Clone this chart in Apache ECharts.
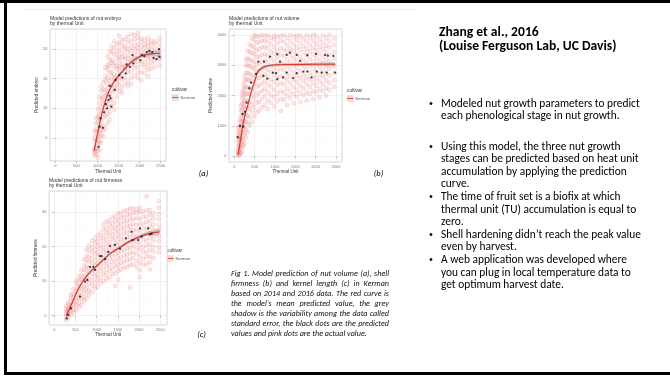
<!DOCTYPE html>
<html>
<head>
<meta charset="utf-8">
<script src="https://cdn.jsdelivr.net/npm/echarts@6/dist/echarts.min.js"></script>
<style>
  body { margin: 0; width: 670px; height: 377px; overflow: hidden; background: #fff; position: relative; font-family: Carlito, Lato, "Liberation Sans", sans-serif; color: #000; }
  #chart { position: absolute; left: 0; top: 0; width: 670px; height: 377px; }
  .bar { position: absolute; background: #000; }
  .hd { position: absolute; left: 439px; top: 25px; font-weight: bold; font-size: 13.6px; line-height: 14px; white-space: nowrap; }
  .bl { position: absolute; left: 429px; font-size: 11.4px; line-height: 12.6px; white-space: nowrap; }
  .bl .dot { position: absolute; left: 0; top: 0; font-size: 8px; }
  .bl .tx { margin-left: 12px; }
  .cap { position: absolute; left: 231px; top: 267.6px; width: 158px; font-style: italic; font-size: 8.1px; line-height: 10.1px; color: #111; }
  .cap div { text-align: justify; text-align-last: justify; white-space: nowrap; }
  .cap div.last { text-align-last: left; }
  .lbl { position: absolute; font-style: italic; font-size: 8.5px; transform: translate(-50%, -50%); }
</style>
</head>
<body>
<div id="chart"></div>

<div class="bar" style="left:0;top:0;width:670px;height:3px"></div>
<div class="bar" style="left:4px;top:0;width:3px;height:375px"></div>
<div class="bar" style="left:4px;top:372px;width:666px;height:3px"></div>
<div style="position:absolute;left:25px;top:9px;width:390px;height:1px;background:#ececec"></div>

<div class="hd">Zhang et al., 2016<br>(Louise Ferguson Lab, UC Davis)</div>

<div class="bl" style="top:96.7px"><span class="dot">•</span><div class="tx">Modeled nut growth parameters to predict<br>each phenological stage in nut growth.</div></div>
<div class="bl" style="top:139.7px"><span class="dot">•</span><div class="tx">Using this model, the three nut growth<br>stages can be predicted based on heat unit<br>accumulation by applying the prediction<br>curve.</div></div>
<div class="bl" style="top:190.1px"><span class="dot">•</span><div class="tx">The time of fruit set is a biofix at which<br>thermal unit (TU) accumulation is equal to<br>zero.</div></div>
<div class="bl" style="top:227.9px"><span class="dot">•</span><div class="tx">Shell hardening didn’t reach the peak value<br>even by harvest.</div></div>
<div class="bl" style="top:253.1px"><span class="dot">•</span><div class="tx">A web application was developed where<br>you can plug in local temperature data to<br>get optimum harvest date.</div></div>

<div class="cap">
  <div>Fig 1. Model prediction of nut volume (a), shell</div>
  <div>firmness (b) and kernel length (c) in Kerman</div>
  <div>based on 2014 and 2016 data. The red curve is</div>
  <div>the model’s mean predicted value, the grey</div>
  <div>shadow is the variability among the data called</div>
  <div>standard error, the black dots are the predicted</div>
  <div class="last">values and pink dots are the actual value.</div>
</div>

<div class="lbl" style="left:203.5px;top:173px">(a)</div>
<div class="lbl" style="left:378.5px;top:173px">(b)</div>
<div class="lbl" style="left:201.5px;top:334px">(c)</div>

<script>
// ---- (a) nut embryo ----
const tuA = [930, 970, 1010, 1050, 1090, 1140, 1190, 1240, 1290, 1340, 1400, 1460, 1520, 1580, 1650, 1720, 1800, 1880, 1960, 2040, 2120, 2200, 2280, 2360, 2470];
const embryoObs = [
  [2.0, 2.9, 3.3, 4.4, 5.1, 2.5, 6.2],
  [2.2, 3.6, 4.7, 5.8, 6.5, 7.4, 3.1, 8.3],
  [1.7, 2.8, 4.0, 5.3, 6.1, 7.7, 8.6, 9.9, 4.6],
  [3.0, 4.3, 6.0, 6.9, 8.4, 9.1, 10.8, 5.2, 11.9],
  [4.2, 5.5, 7.0, 7.9, 9.3, 10.1, 11.6, 12.9, 13.7, 6.4],
  [5.3, 7.1, 8.5, 9.7, 10.6, 12.1, 13.2, 14.4, 6.3, 11.4],
  [6.6, 8.7, 9.8, 11.0, 12.2, 13.1, 14.7, 15.4, 16.9, 10.3],
  [7.5, 9.0, 10.7, 11.6, 12.9, 14.0, 15.1, 16.6, 17.3, 18.8, 12.4],
  [8.1, 10.2, 11.3, 12.5, 13.7, 14.6, 16.0, 17.2, 18.1, 9.4, 19.6],
  [10.4, 11.6, 13.1, 13.9, 15.3, 16.1, 17.6, 18.2, 19.5, 20.4],
  [10.9, 12.8, 13.6, 14.9, 15.7, 17.0, 17.7, 19.1, 20.2, 9.7, 21.3],
  [12.0, 13.4, 14.8, 15.5, 16.6, 17.2, 18.5, 19.4, 20.8, 14.2],
  [12.9, 14.1, 15.2, 16.3, 17.1, 18.0, 18.7, 19.9, 21.1, 22.2],
  [13.5, 14.9, 15.8, 16.9, 17.5, 18.6, 19.3, 20.6, 21.5, 12.6],
  [14.1, 15.2, 16.5, 17.2, 18.3, 18.8, 19.9, 20.5, 21.7, 16.9],
  [14.6, 16.0, 16.8, 17.8, 18.5, 19.4, 20.1, 21.2, 22.1, 13.8],
  [15.2, 16.2, 17.3, 18.1, 18.8, 19.7, 20.5, 21.4, 22.6, 14.1],
  [15.5, 16.8, 17.5, 18.5, 19.1, 20.0, 20.7, 21.7, 22.4, 18.2],
  [16.0, 16.9, 17.9, 18.5, 19.5, 20.2, 20.9, 21.9, 22.7, 15.1],
  [16.1, 17.4, 18.0, 19.0, 19.6, 20.4, 21.2, 21.8, 14.7],
  [15.9, 17.0, 17.8, 18.8, 19.4, 20.3, 20.8, 21.6],
  [16.5, 17.3, 18.3, 18.9, 19.8, 20.5, 21.1, 21.9, 15.4],
  [16.7, 17.7, 18.4, 19.3, 19.9, 20.7, 21.4],
  [17.0, 18.0, 18.6, 19.5, 20.1, 20.9, 21.3],
  [17.2, 18.3, 18.9, 19.7, 20.4, 21.1, 21.8, 18.6]
];
const predAX = [1030, 1050, 1070, 1130, 1160, 1200, 1230, 1260, 1290, 1290, 1310, 1330, 1410, 1430, 1520, 1590, 1670, 1690, 1770, 1830, 1850, 2020, 2050, 2110, 2170, 2230, 2300, 2330, 2400, 2460, 2470];
const predAY = [3.5, 6.9, 8.3, 6.7, 9.3, 10.7, 10.0, 11.4, 12.1, 13.8, 11.7, 10.3, 13.1, 14.8, 15.6, 15.2, 15.9, 17.4, 17.0, 19.0, 17.6, 18.1, 19.0, 18.8, 19.5, 19.7, 19.5, 18.5, 18.3, 20.0, 18.7];
const curveAX = [920, 1000, 1100, 1200, 1300, 1400, 1500, 1600, 1700, 1800, 1900, 2000, 2100, 2250, 2480];
const curveAY = [2.8, 5.6, 8.9, 11.5, 13.3, 14.6, 15.5, 16.3, 17.1, 17.8, 18.3, 18.7, 19.0, 19.2, 19.3];
const seLoA = [2.2, 5.2, 8.6, 11.2, 13.0, 14.3, 15.2, 16.0, 16.8, 17.5, 18.0, 18.4, 18.7, 18.8, 18.8];
const seHiA = [3.4, 6.0, 9.2, 11.8, 13.6, 14.9, 15.8, 16.6, 17.4, 18.1, 18.6, 19.0, 19.3, 19.6, 19.8];

// ---- (b) nut volume ----
const tuB = [100, 130, 160, 190, 220, 250, 290, 330, 380, 430, 490, 550, 610, 680, 750, 820, 900, 980, 1060, 1140, 1220, 1300, 1380, 1460, 1540, 1620, 1700, 1780, 1860, 1940, 2020, 2100, 2180, 2260, 2340, 2460];
const volumeObs = [
  [20, 70, 130, 210, 330, 440, 560, 690, 810, 170, 950],
  [40, 120, 240, 370, 530, 690, 870, 1010, 1190, 310, 630],
  [90, 240, 430, 610, 780, 970, 1120, 1310, 1490, 1660, 550],
  [140, 370, 570, 800, 990, 1160, 1360, 1530, 1730, 1910, 2090],
  [310, 510, 770, 970, 1210, 1380, 1590, 1760, 1970, 2160, 2340, 1090],
  [410, 690, 910, 1160, 1370, 1610, 1800, 2030, 2230, 2460, 2640],
  [620, 870, 1140, 1370, 1630, 1840, 2080, 2290, 2530, 2750, 2990, 3180],
  [790, 1090, 1330, 1590, 1810, 2070, 2280, 2530, 2750, 3020, 3240, 3480],
  [1010, 1290, 1570, 1790, 2050, 2260, 2510, 2720, 2980, 3190, 3440, 3690],
  [1140, 1460, 1710, 1990, 2210, 2470, 2680, 2940, 3150, 3410, 3640, 3890],
  [1310, 1610, 1910, 2140, 2410, 2630, 2890, 3110, 3360, 3590, 3840, 3990],
  [1440, 1760, 2020, 2300, 2530, 2790, 3010, 3270, 3490, 3750, 3970],
  [1510, 1790, 2090, 2330, 2590, 2810, 3070, 3290, 3540, 3760, 3940],
  [1610, 1890, 2160, 2390, 2650, 2870, 3120, 3340, 3590, 3810, 4000],
  [1690, 1990, 2220, 2480, 2690, 2940, 3160, 3370, 3610, 3820, 3960],
  [1560, 1840, 2130, 2370, 2630, 2850, 3100, 3310, 3570, 3780, 3990],
  [1760, 2020, 2300, 2520, 2780, 2990, 3240, 3450, 3700, 3910],
  [1640, 1950, 2190, 2460, 2680, 2930, 3140, 3390, 3600, 3860, 3980],
  [1810, 2070, 2340, 2560, 2810, 3020, 3270, 3480, 3730, 3940],
  [1490, 1890, 2150, 2420, 2640, 2900, 3110, 3360, 3570, 3820, 3970],
  [1860, 2100, 2370, 2590, 2850, 3060, 3310, 3520, 3770, 3990],
  [1690, 2000, 2240, 2510, 2730, 2980, 3190, 3450, 3660, 3910],
  [1910, 2140, 2410, 2630, 2880, 3090, 3340, 3550, 3800, 4000],
  [1750, 2050, 2290, 2550, 2770, 3020, 3230, 3480, 3690, 3940],
  [1960, 2190, 2450, 2670, 2920, 3130, 3380, 3590, 3840, 3990],
  [1790, 2090, 2330, 2590, 2810, 3060, 3270, 3520, 3730, 3970],
  [2010, 2240, 2500, 2710, 2960, 3170, 3420, 3630, 3880],
  [1840, 2110, 2390, 2610, 2870, 3080, 3330, 3540, 3790, 3990],
  [2060, 2290, 2540, 2750, 3000, 3210, 3460, 3670, 3920],
  [1890, 2160, 2430, 2650, 2900, 3110, 3360, 3570, 3820, 4000],
  [2110, 2330, 2580, 2790, 3040, 3250, 3500, 3710, 3960],
  [1940, 2210, 2470, 2690, 2940, 3150, 3400, 3610, 3860],
  [2140, 2370, 2620, 2830, 3080, 3290, 3540, 3750, 3990],
  [1990, 2250, 2510, 2730, 2980, 3190, 3440, 3650, 3900],
  [2190, 2420, 2670, 2880, 3130, 3340, 3590, 3800, 4000],
  [2290, 2510, 2760, 2970, 3220, 3430, 3680, 3890]
];
const predBX = [83, 140, 206, 222, 264, 305, 370, 411, 534, 591, 714, 731, 813, 879, 950, 1027, 1059, 1059, 1126, 1200, 1290, 1290, 1370, 1450, 1537, 1537, 1620, 1700, 1798, 1798, 1900, 2012, 2030, 2150, 2234, 2276, 2300, 2438, 2480];
const predBY = [627, 1000, 1396, 977, 1472, 1769, 2244, 2429, 2716, 3122, 2650, 3122, 2561, 3287, 2760, 2739, 3366, 2545, 3122, 2600, 3343, 2761, 3420, 2580, 3343, 2739, 3150, 2794, 3333, 2794, 2600, 3376, 2794, 2760, 3343, 2761, 3320, 3310, 2761];
const curveBX = [90, 150, 214, 280, 337, 400, 460, 520, 584, 700, 850, 1034, 1500, 2000, 2480];
const curveBY = [50, 500, 1040, 1450, 1700, 2050, 2310, 2550, 2800, 2930, 2990, 3020, 3030, 3035, 3040];
const seLoB = [0, 420, 960, 1380, 1640, 1990, 2250, 2490, 2740, 2880, 2950, 2980, 2990, 2990, 2980];
const seHiB = [100, 580, 1120, 1520, 1760, 2110, 2370, 2610, 2860, 2980, 3030, 3060, 3070, 3080, 3100];

// ---- (c) nut firmness ----
const tuC = [280, 330, 390, 450, 520, 580, 640, 700, 760, 820, 890, 960, 1020, 1090, 1160, 1230, 1300, 1370, 1440, 1510, 1580, 1650, 1720, 1790, 1860, 1940, 2020, 2100, 2180, 2260, 2340, 2470];
const firmObs = [
  [-1.3, -0.4, 0.4, 1.1, 1.9, 2.7],
  [-0.7, 0.3, 1.2, 2.1, 3.1, 3.7, 1.6],
  [0.2, 1.1, 2.2, 2.9, 4.2, 5.1, 6.1],
  [0.9, 1.8, 3.1, 4.0, 5.4, 6.3, 7.6],
  [1.5, 2.9, 4.1, 5.1, 6.6, 7.6, 9.0, 10.0],
  [2.5, 3.6, 5.1, 6.2, 7.7, 8.8, 10.3, 11.4],
  [3.2, 4.8, 6.0, 7.6, 8.8, 10.4, 11.6, 13.2],
  [4.2, 5.5, 7.2, 8.5, 10.2, 11.5, 13.2, 14.5, 16.2],
  [4.9, 6.7, 8.1, 9.9, 11.2, 12.9, 14.2, 15.9, 17.3, 19.1],
  [5.9, 7.4, 9.2, 10.6, 12.4, 13.8, 15.6, 17.0, 18.8, 20.2],
  [6.8, 8.7, 10.2, 12.0, 13.4, 15.2, 16.6, 18.4, 19.8, 21.6],
  [7.9, 9.4, 11.3, 12.7, 14.5, 15.9, 17.7, 19.1, 20.9, 22.3],
  [8.3, 10.3, 11.8, 13.6, 15.0, 16.8, 18.2, 20.0, 21.4, 23.2],
  [9.4, 10.9, 12.8, 14.2, 16.0, 17.4, 19.2, 20.6, 22.4, 23.8],
  [9.9, 11.9, 13.4, 15.2, 16.6, 18.4, 19.8, 21.6, 23.0, 24.9, 26.3],
  [10.7, 12.3, 14.2, 15.7, 17.5, 18.9, 20.7, 22.1, 23.9, 25.3, 27.1],
  [11.1, 13.1, 14.6, 16.5, 17.9, 19.7, 21.1, 22.9, 24.3, 26.1, 27.5],
  [12.0, 13.6, 15.5, 17.0, 18.8, 20.2, 22.0, 23.4, 25.2, 26.6, 28.4],
  [12.3, 14.3, 15.8, 17.7, 19.1, 20.9, 22.3, 24.1, 25.5, 27.3, 28.7, 8.6],
  [13.0, 14.6, 16.5, 18.0, 19.8, 21.2, 23.0, 24.4, 26.2, 27.6, 29.5, 10.4],
  [13.3, 15.3, 16.8, 18.7, 20.1, 21.9, 23.3, 25.1, 26.5, 28.3, 29.7],
  [13.9, 15.5, 17.4, 18.9, 20.7, 22.1, 23.9, 25.3, 27.1, 28.5, 30.3],
  [14.1, 16.1, 17.6, 19.5, 20.9, 22.7, 24.1, 25.9, 27.3, 29.1, 30.5],
  [14.6, 16.2, 18.1, 19.6, 21.4, 22.8, 24.6, 26.0, 27.8, 29.2, 31.0, 8.1],
  [14.7, 16.7, 18.2, 20.1, 21.5, 23.3, 24.7, 26.5, 27.9, 29.7, 30.9],
  [14.1, 15.8, 17.8, 19.4, 21.3, 22.8, 24.7, 26.2, 28.1, 29.6, 30.7],
  [13.1, 15.3, 17.0, 19.1, 20.7, 22.7, 24.3, 26.3, 27.9, 29.9, 31.1, 11.1],
  [14.7, 16.3, 18.3, 19.8, 21.7, 23.2, 25.1, 26.6, 28.5, 30.0],
  [14.9, 16.9, 18.4, 20.3, 21.8, 23.7, 25.2, 27.1, 28.6, 30.5, 34.4],
  [15.5, 17.1, 19.0, 20.5, 22.4, 23.9, 25.8, 27.3, 29.2, 30.5, 13.4],
  [16.7, 18.5, 19.9, 21.7, 23.1, 24.9, 26.3, 28.1, 29.5],
  [18.3, 19.7, 21.5, 22.9, 24.7, 26.1, 27.9, 29.3, 31.1, 33.1]
];
const predCX = [292, 330, 394, 606, 724, 779, 842, 920, 960, 1078, 1117, 1200, 1274, 1314, 1432, 1550, 1691, 1825, 1849, 1981, 2021, 2061, 2217, 2257, 2297];
const predCY = [-0.8, 0.2, 2.1, 5.5, 9.8, 10.3, 14.1, 14.1, 13.2, 17.2, 17.2, 16.3, 18.4, 20.1, 20.4, 19.3, 22.3, 24.2, 21.8, 21.8, 25.2, 22.8, 25.2, 23.5, 23.7];
const curveCX = [280, 350, 450, 530, 650, 800, 950, 1040, 1200, 1350, 1550, 1750, 2020, 2200, 2480];
const curveCY = [0, 1.8, 4.5, 6.8, 9.5, 12.0, 13.8, 14.8, 16.6, 18.2, 19.7, 21.3, 22.8, 23.6, 24.2];
const seLoC = [-0.6, 1.3, 4.1, 6.4, 9.1, 11.6, 13.4, 14.4, 16.2, 17.8, 19.3, 20.9, 22.3, 23.0, 23.4];
const seHiC = [0.6, 2.3, 4.9, 7.2, 9.9, 12.4, 14.2, 15.2, 17.0, 18.6, 20.1, 21.7, 23.3, 24.2, 25.0];

const FONT = 'Liberation Sans';

function columns(xs, groups) {
  const out = [];
  xs.forEach((x, i) => (groups[i] || []).forEach(v => out.push([x, v])));
  return out;
}
function pairs(xs, ys) {
  return xs.map((x, i) => [x, ys[i]]);
}

// panel layouts (pixel boxes measured from the slide)
const panels = [
  {
    box: { left: 50, top: 29, width: 116, height: 132 }, xr: [-125, 2625], yr: [1.1, 23.4],
    title: 'Model predictions of nut embryo\nby thermal Unit', titleTop: 16,
    yName: 'Predicted embryo', yGap: 7.5, xGap: 8.5, legend: [172, 90],
    obs: columns(tuA, embryoObs), pred: pairs(predAX, predAY),
    curve: pairs(curveAX, curveAY), lo: pairs(curveAX, seLoA), hi: pairs(curveAX, seHiA)
  },
  {
    box: { left: 229, top: 29, width: 113, height: 133 }, xr: [-130, 2650], yr: [-190, 4200],
    title: 'Model predictions of nut volume\nby thermal Unit', titleTop: 16,
    yName: 'Predicted volume', yGap: 10.5, xGap: 7, legend: [347, 91],
    obs: columns(tuB, volumeObs), pred: pairs(predBX, predBY),
    curve: pairs(curveBX, curveBY), lo: pairs(curveBX, seLoB), hi: pairs(curveBX, seHiB)
  },
  {
    box: { left: 49, top: 191, width: 118, height: 134 }, xr: [-125, 2660], yr: [-2.7, 36],
    title: 'Model predictions of nut firmness\nby thermal Unit', titleTop: 178,
    yName: 'Predicted firmness', yGap: 6.5, xGap: 6, legend: [167, 251],
    obs: columns(tuC, firmObs), pred: pairs(predCX, predCY),
    curve: pairs(curveCX, curveCY), lo: pairs(curveCX, seLoC), hi: pairs(curveCX, seHiC)
  }
];

const grid = [], xAxis = [], yAxis = [], series = [], title = [], graphic = [];

panels.forEach((p, i) => {
  grid.push(Object.assign({ show: true, backgroundColor: '#fff', borderColor: '#cfcfcf', borderWidth: 0.8 }, p.box));
  const common = {
    type: 'value', gridIndex: i, splitNumber: 5,
    axisLine: { show: false },
    axisTick: { show: true, length: 2, lineStyle: { color: '#9a9a9a', width: 0.6 } },
    axisLabel: {
      fontSize: 4, color: '#7a7a7a', margin: 2.5, fontFamily: FONT, showMinLabel: false, showMaxLabel: false,
      formatter: v => String(v)
    },
    splitLine: { show: true, lineStyle: { color: '#e8e8e8', width: 0.6 } },
    minorTick: { show: false, splitNumber: 2 },
    minorSplitLine: { show: true, lineStyle: { color: '#f4f4f4', width: 0.4 } },
    nameLocation: 'middle',
    nameTextStyle: { fontSize: 4.5, color: '#333', fontFamily: FONT }
  };
  xAxis.push(Object.assign({}, common, { min: p.xr[0], max: p.xr[1], name: 'Thermal Unit', nameGap: p.xGap }));
  yAxis.push(Object.assign({}, common, { min: p.yr[0], max: p.yr[1], name: p.yName, nameGap: p.yGap }));

  title.push({
    text: p.title, left: p.box.left, top: p.titleTop, padding: 0,
    textStyle: { fontSize: 5, fontWeight: 'normal', color: '#333', lineHeight: 5.4, fontFamily: FONT }
  });

  series.push({
    type: 'scatter', xAxisIndex: i, yAxisIndex: i, data: p.obs, symbolSize: 4.2, z: 2,
    itemStyle: { color: 'rgba(242,112,112,0.2)', borderColor: 'rgba(228,88,88,0.34)', borderWidth: 0.5 }
  });
  const lo = p.lo, hi = p.hi;
  series.push({
    type: 'custom', xAxisIndex: i, yAxisIndex: i, z: 3, clip: true,
    data: [lo[0]],
    renderItem: function (params, api) {
      const pts = lo.map(q => api.coord(q)).concat(hi.slice().reverse().map(q => api.coord(q)));
      return { type: 'polygon', shape: { points: pts, smooth: 0.2 }, style: { fill: 'rgba(120,120,120,0.35)' } };
    }
  });
  series.push({
    type: 'line', xAxisIndex: i, yAxisIndex: i, data: p.curve, smooth: true, showSymbol: false, z: 4,
    lineStyle: { color: '#d9372c', width: 1.1 }
  });
  series.push({
    type: 'scatter', xAxisIndex: i, yAxisIndex: i, data: p.pred, symbolSize: 2.3, z: 5,
    itemStyle: { color: '#111' }
  });

  // ggplot style legend: "cultivar" + key + "Kerman"
  const lx = p.legend[0], ly = p.legend[1];
  graphic.push(
    { type: 'text', x: lx, y: ly, style: { text: 'cultivar', fontSize: 4.8, fill: '#333', fontFamily: FONT, verticalAlign: 'middle' } },
    { type: 'rect', shape: { x: lx, y: ly + 4.5, width: 6.5, height: 6 }, style: { fill: '#f3d9d7', stroke: '#d8d8d8', lineWidth: 0.4 } },
    { type: 'line', shape: { x1: lx, y1: ly + 7.5, x2: lx + 6.5, y2: ly + 7.5 }, style: { stroke: '#d9372c', lineWidth: 0.8 } },
    { type: 'text', x: lx + 8.5, y: ly + 7.5, style: { text: 'Kerman', fontSize: 4.2, fill: '#555', fontFamily: FONT, verticalAlign: 'middle' } }
  );
});

const myChart = echarts.init(document.getElementById('chart'));
myChart.setOption({
  animation: false,
  title: title,
  grid: grid,
  xAxis: xAxis,
  yAxis: yAxis,
  series: series,
  graphic: graphic
});
</script>
</body>
</html>
